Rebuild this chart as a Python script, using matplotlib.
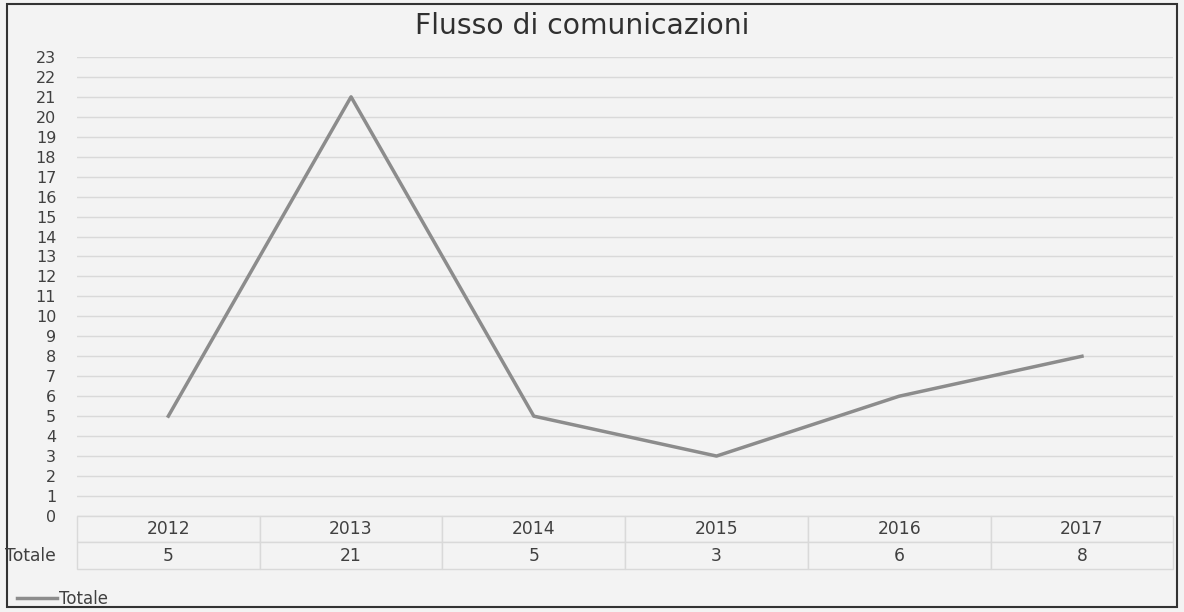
import matplotlib.pyplot as plt
from matplotlib.patches import Rectangle

plt.rcParams['font.family'] = ['DejaVu Sans']

anni = ['2012', '2013', '2014', '2015', '2016', '2017']
totale = [5, 21, 5, 3, 6, 8]
y_ticks = list(range(0, 24))

testo = '#404040'
griglia = '#d9d9d9'
linea = '#8c8c8c'
sfondo = '#f3f3f3'

fig = plt.figure(figsize=(11.84, 6.12), dpi=100, facecolor=sfondo)
ax = fig.add_axes([0.065, 0.157, 0.926, 0.750])
ax.set_facecolor(sfondo)

x = list(range(len(anni)))
ax.plot(x, totale, color=linea, linewidth=2.5, label='Totale', zorder=3)

ax.set_xlim(-0.5, len(anni) - 0.5)
ax.set_ylim(0, 23)
ax.set_yticks(y_ticks)
ax.set_yticklabels([str(v) for v in y_ticks], fontsize=11.5, color=testo)
ax.tick_params(axis='y', length=0, pad=15)
ax.set_xticks([])
ax.grid(axis='y', color=griglia, linewidth=1)
for s in ax.spines.values():
    s.set_visible(False)

# tabella dati sotto il grafico
tab = ax.table(cellText=[[str(v) for v in totale]], colLabels=anni,
               cellLoc='center', bbox=[0, -0.115, 1, 0.115])
tab.auto_set_font_size(False)
for (r, c), cell in tab.get_celld().items():
    cell.set_facecolor(sfondo)
    cell.set_edgecolor(griglia)
    cell.get_text().set_color(testo)
    cell.get_text().set_fontsize(12.3)
fig.text(5 / 1184, 1 - 556 / 612, 'Totale', fontsize=12.3, color=testo,
         ha='left', va='center')

fig.text(0.492, 0.958, 'Flusso di comunicazioni', fontsize=20.3, color='#303030',
         ha='center', va='center')

leg = fig.legend(loc='lower left', bbox_to_anchor=(0.002, -0.018), frameon=False,
                 fontsize=12, handlelength=2.4, handletextpad=0.1)
for t in leg.get_texts():
    t.set_color(testo)

fig.patches.append(Rectangle((0.006, 0.008), 0.988, 0.985, transform=fig.transFigure,
                             fill=False, edgecolor='#333333', linewidth=1.5))

fig.savefig('out.png', dpi=100, facecolor=sfondo)
